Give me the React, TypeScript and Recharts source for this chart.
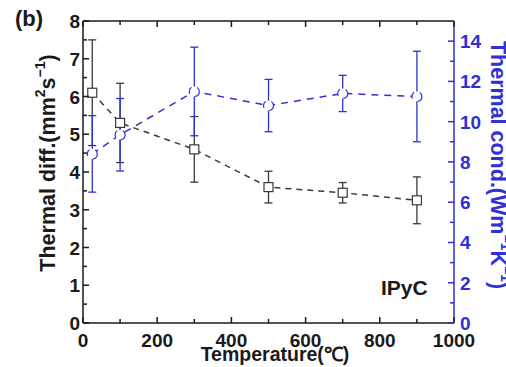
import {
  ComposedChart,
  Line,
  XAxis,
  YAxis,
  ErrorBar,
} from "recharts";

// temperature (°C)
const temps = [25, 100, 300, 500, 700, 900];
// thermal diffusivity (mm2/s) and its error
const diffValues = [6.1, 5.3, 4.6, 3.6, 3.45, 3.25];
const diffErrors = [1.4, 1.05, 0.87, 0.42, 0.27, 0.62];
// thermal conductivity (W/mK) and its error
const condValues = [8.4, 9.35, 11.5, 10.8, 11.4, 11.25];
const condErrors = [1.9, 1.8, 2.2, 1.3, 0.9, 2.25];

const xTicks = [0, 100, 200, 300, 400, 500, 600, 700, 800, 900, 1000];
const leftTicks = [0, 0.5, 1, 1.5, 2, 2.5, 3, 3.5, 4, 4.5, 5, 5.5, 6, 6.5, 7, 7.5, 8];
const rightTicks = [0, 1, 2, 3, 4, 5, 6, 7, 8, 9, 10, 11, 12, 13, 14];

const data = temps.map((t, i) => ({
  temp: t,
  diff: diffValues[i],
  diffErr: diffErrors[i],
  cond: condValues[i],
  condErr: condErrors[i],
}));

const FONT = "'Liberation Sans', Arial, sans-serif";
const BLACK = "#1a1a1a";
const GREY = "#3a3a3a";
const BLUE = "#3030d4";

function LeftTick(props: any) {
  const { x, y, payload } = props;
  const v = payload.value;
  const major = Number.isInteger(v);
  const ax = x + 3;
  return (
    <g>
      <line x1={ax} x2={ax + (major ? 6 : 4)} y1={y} y2={y} stroke={BLACK} strokeWidth={1.5} />
      {major && (
        <text x={x} y={y} dy={7} textAnchor="end" fill={BLACK}
          fontFamily={FONT} fontWeight={700} fontSize={19}>
          {v}
        </text>
      )}
    </g>
  );
}

function RightTick(props: any) {
  const { x, y, payload } = props;
  const v = payload.value;
  const major = v % 2 === 0;
  const ax = x - 6;
  return (
    <g>
      <line x1={ax} x2={ax - (major ? 6 : 4)} y1={y} y2={y} stroke={BLUE} strokeWidth={1.5} />
      {major && (
        <text x={x} y={y} dy={7} textAnchor="start" fill={BLUE}
          fontFamily={FONT} fontWeight={700} fontSize={19}>
          {v}
        </text>
      )}
    </g>
  );
}

function BottomTick(props: any) {
  const { x, y, payload } = props;
  const v = payload.value;
  const major = v % 200 === 0;
  const ay = y - 10;
  return (
    <g>
      <line x1={x} x2={x} y1={ay} y2={ay - (major ? 6 : 4)} stroke={BLACK} strokeWidth={1.5} />
      {major && (
        <text x={x} y={y} dy={14} textAnchor="middle" fill={BLACK}
          fontFamily={FONT} fontWeight={700} fontSize={19}>
          {v}
        </text>
      )}
    </g>
  );
}

function TopTick(props: any) {
  const { x, y, payload } = props;
  const major = payload.value % 200 === 0;
  return (
    <line x1={x} x2={x} y1={y} y2={y + (major ? 6 : 4)} stroke={BLACK} strokeWidth={1.5} />
  );
}

function LeftTitle(props: any) {
  const { viewBox } = props;
  const cx = viewBox.x + 48;
  const cy = viewBox.y + 142;
  return (
    <text x={cx} y={cy} transform={`rotate(-90 ${cx} ${cy})`} textAnchor="middle"
      dominantBaseline="central" fill={BLACK} fontFamily={FONT} fontWeight={700} fontSize={21.5}>
      Thermal diff.(mm
      <tspan baselineShift="super" fontSize={14}>2</tspan>
      s
      <tspan baselineShift="super" fontSize={14}>−1</tspan>
      )
    </text>
  );
}

function RightTitle(props: any) {
  const { viewBox } = props;
  const cx = viewBox.x + 44;
  const cy = viewBox.y + 144;
  return (
    <text x={cx} y={cy} transform={`rotate(90 ${cx} ${cy})`} textAnchor="middle"
      dominantBaseline="central" fill={BLUE} fontFamily={FONT} fontWeight={700} fontSize={21.5}>
      Thermal cond.(Wm
      <tspan baselineShift="super" fontSize={14}>−1</tspan>
      K
      <tspan baselineShift="super" fontSize={14}>−1</tspan>
      )
    </text>
  );
}

function SquareDot(props: any) {
  const { cx, cy, index } = props;
  return (
    <rect key={`sq-${index}`} x={cx - 4.5} y={cy - 4.5} width={9} height={9}
      fill="#fff" stroke={GREY} strokeWidth={1.2} />
  );
}

export default function App() {
  return (
    <div style={{ position: "absolute", left: 0, top: 0, width: 506, height: 367, background: "#fff" }}>
      <ComposedChart width={506} height={367} data={data}
        margin={{ top: 0, right: 0, bottom: 0, left: 0 }}>
        <XAxis xAxisId="bottom" dataKey="temp" type="number" domain={[0, 1000]}
          ticks={xTicks} interval={0} tickSize={0} tickMargin={10} tickLine={false}
          tick={<BottomTick />} height={44}
          axisLine={{ stroke: BLACK, strokeWidth: 1.5 }} />
        <XAxis xAxisId="top" orientation="top" dataKey="temp" type="number" domain={[0, 1000]}
          ticks={xTicks} interval={0} tickSize={0} tickMargin={0} tickLine={false}
          tick={<TopTick />} height={21}
          axisLine={{ stroke: BLACK, strokeWidth: 1.5 }} />
        <YAxis yAxisId="left" type="number" domain={[0, 8]} ticks={leftTicks}
          interval={0} tickSize={0} tickMargin={3} tickLine={false} width={83}
          tick={<LeftTick />} axisLine={{ stroke: BLACK, strokeWidth: 1.5 }}
          label={<LeftTitle />} />
        <YAxis yAxisId="right" orientation="right" type="number" domain={[0, 15]}
          ticks={rightTicks} interval={0} tickSize={0} tickMargin={6} tickLine={false}
          width={52} tick={<RightTick />} axisLine={{ stroke: BLUE, strokeWidth: 1.5 }}
          label={<RightTitle />} />

        <Line xAxisId="bottom" yAxisId="left" dataKey="diff" stroke={GREY}
          strokeWidth={1.5} strokeDasharray="6 5" dot={<SquareDot />}
          isAnimationActive={false}>
          <ErrorBar dataKey="diffErr" width={4} stroke={GREY} strokeWidth={1.3} />
        </Line>
        <Line xAxisId="bottom" yAxisId="right" dataKey="cond" stroke={BLUE}
          strokeWidth={1.5} strokeDasharray="7 6"
          dot={{ r: 5, fill: "#fff", stroke: BLUE, strokeWidth: 1.2 }}
          isAnimationActive={false}>
          <ErrorBar dataKey="condErr" width={4} stroke={BLUE} strokeWidth={1.3} />
        </Line>
      </ComposedChart>

      <div style={{ position: "absolute", left: 15, top: 8, fontFamily: FONT, fontWeight: 700,
        fontSize: 22, color: BLACK, lineHeight: 1 }}>(b)</div>
      <div style={{ position: "absolute", left: 381, top: 277, fontFamily: FONT, fontWeight: 700,
        fontSize: 21, color: BLACK, lineHeight: 1 }}>IPyC</div>
      <div style={{ position: "absolute", left: 0, width: 550, textAlign: "center", top: 345,
        fontFamily: FONT, fontWeight: 700, fontSize: 19.5, color: BLACK, lineHeight: 1 }}>
        Temperature(℃)
      </div>
    </div>
  );
}
